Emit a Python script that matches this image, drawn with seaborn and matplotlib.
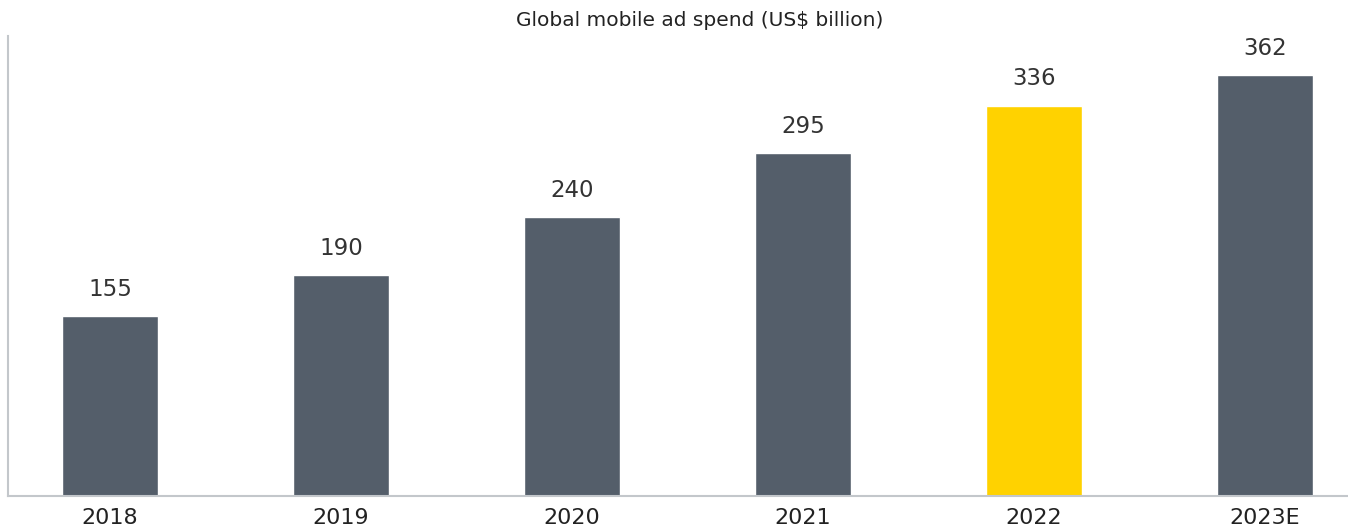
import matplotlib
matplotlib.use('Agg')
import matplotlib.pyplot as plt
import seaborn as sns
import pandas as pd

# chart data
years = ['2018', '2019', '2020', '2021', '2022', '2023E']
spend = [155, 190, 240, 295, 336, 362]
colors = ['#545E6A', '#545E6A', '#545E6A', '#545E6A', '#FFD200', '#545E6A']

df = pd.DataFrame({'year': years, 'spend': spend})

sns.set_style('white')
plt.rcParams['font.family'] = ['DejaVu Sans']

fig = plt.figure(figsize=(13.48, 5.31), dpi=100)
ax = fig.add_axes([8 / 1348, 35 / 531, 1 - 8 / 1348, (496 - 36) / 531])

sns.barplot(data=df, x='year', y='spend', hue='year', palette=colors,
            legend=False, width=0.415, saturation=1, ax=ax)

for i, v in enumerate(spend):
    ax.annotate(str(v), (i, v), xytext=(0, 11), textcoords='offset points',
                ha='center', va='bottom', fontsize=16.5, color='#333333')

ax.set_xlim(-0.4416, 5.359)
ax.set_ylim(0, 396)
ax.set_xlabel('')
ax.set_ylabel('')
ax.set_yticks([])
ax.tick_params(axis='x', length=0, pad=9, labelsize=16, labelcolor='#222222')

for s in ['top', 'right']:
    ax.spines[s].set_visible(False)
for s in ['left', 'bottom']:
    ax.spines[s].set_color('#C3C7CB')
    ax.spines[s].set_linewidth(1.5)

fig.text(0.519, 0.962, 'Global mobile ad spend (US$ billion)', ha='center',
         va='center', fontsize=14.5, color='#222222')

fig.savefig('out.png', dpi=100)
